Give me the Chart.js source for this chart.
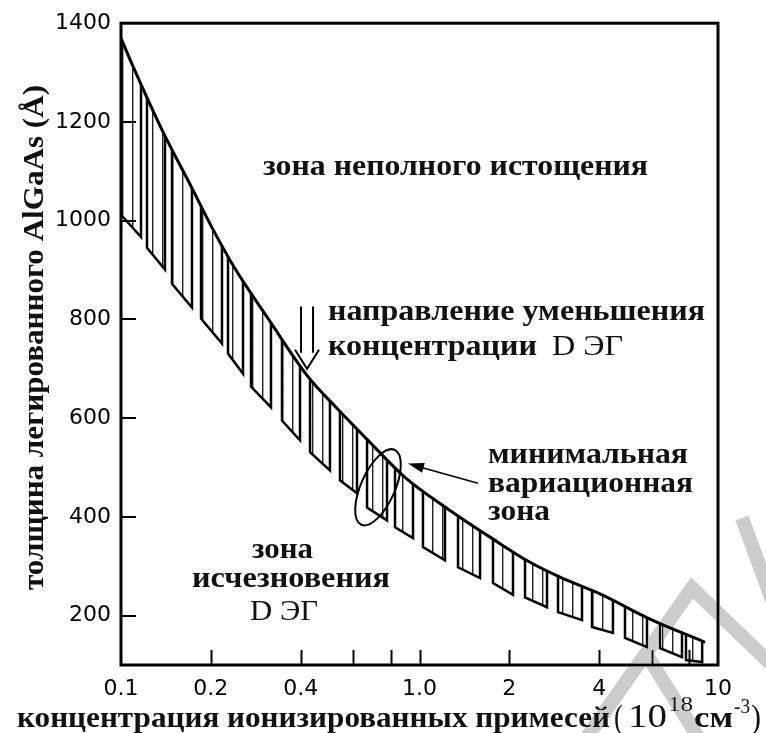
<!DOCTYPE html>
<html>
<head>
<meta charset="utf-8">
<script src="https://cdn.jsdelivr.net/npm/chart.js@4/dist/chart.umd.min.js"></script>
<style>
  html, body { margin: 0; padding: 0; background: #fff; }
  #c { display: block; }
</style>
</head>
<body>
<canvas id="c" width="766" height="733"></canvas>
<script>
// axis ticks
const xTicks = [0.1, 0.2, 0.4, 0.6, 0.8, 1, 2, 4, 6, 8, 10];
const xTickLabels = ['0.1', '0.2', '0.4', '', '', '1.0', '2', '4', '', '', '10'];
const yTicks = [200, 400, 600, 800, 1000, 1200, 1400];

// upper boundary curve (concentration 10^18 cm^-3, thickness A)
const curveX = [0.1, 0.1089, 0.1372, 0.1729, 0.2018, 0.2409, 0.3108, 0.4231, 0.5212, 0.6722, 0.8942, 1.265, 1.723, 2.346, 2.956, 4.025, 5.92, 9.05];
const curveY = [1370, 1317, 1184, 1066, 986, 903, 802, 684, 624, 555, 480, 413, 359, 308, 278, 244, 193, 146];

// hatched teeth under the curve: start / end concentration, bottom thickness at both ends
const toothX0 = [0.1, 0.1222, 0.1482, 0.1854, 0.2283, 0.2726, 0.3462, 0.4298, 0.5415, 0.6672, 0.8279, 1.027, 1.346, 1.763, 2.257, 2.911, 3.784, 4.88, 6.393, 7.811];
const toothX1 = [0.1167, 0.1404, 0.1729, 0.2179, 0.2563, 0.318, 0.3978, 0.5012, 0.6175, 0.7784, 0.9511, 1.217, 1.595, 2.057, 2.674, 3.503, 4.447, 5.783, 7.574, 8.85];
const toothY0 = [1012, 945, 872, 802, 731, 664, 595, 531, 474, 419, 379, 339, 298, 266, 237, 207, 177, 155, 134, 110];
const toothY1 = [967, 901, 824, 751, 690, 622, 555, 494, 448, 393, 357, 312, 276, 242, 217, 191, 165, 136, 116, 106];

const yMin = 100, yMax = 1400;

const BOLD = 'bold 30px "Liberation Serif"';
const REG = '30px "Liberation Serif"';
const BIG = '33px "Liberation Serif"';
const SUP = '20px "Liberation Serif"';

// text labels inside the plot (left x, baseline y, width in px)
const notes = [
    { t: 'зона неполного истощения', f: BOLD, x: 263, y: 175, w: 385 },
    { t: 'направление уменьшения', f: BOLD, x: 328, y: 320, w: 377 },
    { t: 'концентрации', f: BOLD, x: 328, y: 355, w: 209 },
    { t: 'D ЭГ', f: REG, x: 552, y: 355, w: 71 },
    { t: 'минимальная', f: BOLD, x: 488, y: 463, w: 200 },
    { t: 'вариационная', f: BOLD, x: 488, y: 492, w: 205 },
    { t: 'зона', f: BOLD, x: 488, y: 520, w: 62 },
    { t: 'зона', f: BOLD, x: 252, y: 558, w: 61 },
    { t: 'исчезновения', f: BOLD, x: 192, y: 587, w: 198 },
    { t: 'D ЭГ', f: REG, x: 250, y: 620, w: 68 }
];

// hatch pattern: thin vertical lines every 10px
const ctx = document.getElementById('c').getContext('2d');
const pc = document.createElement('canvas');
pc.width = 10; pc.height = 4;
const pctx = pc.getContext('2d');
pctx.fillStyle = '#222';
pctx.fillRect(2, 0, 1, 4);
pctx.fillStyle = 'rgba(0,0,0,0.35)';
pctx.fillRect(3, 0, 1, 4);
const hatch = ctx.createPattern(pc, 'repeat');

const outline = [];
toothX0.forEach((x0, i) => {
    outline.push({ x: x0, y: yMax }, { x: x0, y: toothY0[i] }, { x: toothX1[i], y: toothY1[i] }, { x: toothX1[i], y: yMax }, { x: toothX1[i], y: null });
});

const datasets = [{
    label: 'upper',
    data: curveX.map((x, i) => ({ x, y: curveY[i] })),
    borderColor: '#000',
    borderWidth: 3,
    backgroundColor: '#fff',
    fill: 'end',
    cubicInterpolationMode: 'monotone',
    pointRadius: 0,
    order: 0
}, {
    label: 'teeth',
    data: outline,
    borderColor: '#000',
    borderWidth: 2.5,
    fill: false,
    spanGaps: false,
    pointRadius: 0,
    order: 1
}];
toothX0.forEach((x0, i) => {
    datasets.push({
        label: 'hatch' + i,
        data: [{ x: x0, y: toothY0[i] }, { x: toothX1[i], y: toothY1[i] }],
        borderColor: 'rgba(0,0,0,0)',
        borderWidth: 0,
        backgroundColor: hatch,
        fill: 'end',
        pointRadius: 0,
        order: 2
    });
});

function fitText(c, t, font, x, y, w) {
    c.font = font;
    const nat = c.measureText(t).width;
    c.save();
    c.translate(x, y);
    c.scale(w / nat, 1);
    c.fillText(t, 0, 0);
    c.restore();
}

function arrowHead(c, x1, y1, x2, y2, len, half) {
    const a = Math.atan2(y2 - y1, x2 - x1);
    c.beginPath();
    c.moveTo(x2, y2);
    c.lineTo(x2 - len * Math.cos(a) + half * Math.sin(a), y2 - len * Math.sin(a) - half * Math.cos(a));
    c.lineTo(x2 - len * Math.cos(a) - half * Math.sin(a), y2 - len * Math.sin(a) + half * Math.cos(a));
    c.closePath();
    c.fill();
}

const decor = {
    id: 'decor',
    beforeDraw(chart) {
        const c = chart.ctx;
        c.save();
        c.fillStyle = '#fff';
        c.fillRect(0, 0, chart.width, chart.height);
        c.restore();
    },
    afterDraw(chart) {
        const c = chart.ctx;
        const a = chart.chartArea;
        const xs = chart.scales.x, ys = chart.scales.y;
        c.save();
        c.strokeStyle = '#000';
        c.fillStyle = '#111';

        // frame
        c.lineWidth = 3;
        c.strokeRect(a.left, a.top, a.right - a.left, a.bottom - a.top);

        // inner tick marks
        c.lineWidth = 2;
        c.beginPath();
        xTicks.slice(1, -1).forEach(v => {
            const px = Math.round(xs.getPixelForValue(v)) + 0.5;
            c.moveTo(px, a.bottom);
            c.lineTo(px, a.bottom - 15);
        });
        yTicks.slice(0, -1).forEach(v => {
            const py = Math.round(ys.getPixelForValue(v));
            c.moveTo(a.left, py);
            c.lineTo(a.left + 15, py);
        });
        c.stroke();

        // axis titles
        c.textAlign = 'left';
        c.textBaseline = 'alphabetic';
        fitText(c, 'концентрация ионизированных примесей', BOLD, 17, 727, 593);
        fitText(c, '(', BIG, 614, 728, 9);
        fitText(c, '10', BIG, 628, 727, 39);
        fitText(c, '18', SUP, 668, 711, 25);
        fitText(c, 'см', BOLD, 694, 727, 39);
        fitText(c, '-3', SUP, 734, 713, 16);
        fitText(c, ')', BIG, 751, 728, 10);

        c.save();
        c.translate(43, 590);
        c.rotate(-Math.PI / 2);
        fitText(c, 'толщина легированного AlGaAs (Å)', BOLD, 0, 0, 505);
        c.restore();

        // annotations
        notes.forEach(n => fitText(c, n.t, n.f, n.x, n.y, n.w));

        // double arrow: direction of decreasing concentration
        const ax = xs.getPixelForValue(0.42);
        const aTop = ys.getPixelForValue(826), aTip = ys.getPixelForValue(700);
        c.lineWidth = 2;
        c.beginPath();
        c.moveTo(ax - 6, aTop); c.lineTo(ax - 6, aTip - 16);
        c.moveTo(ax + 6, aTop); c.lineTo(ax + 6, aTip - 16);
        c.moveTo(ax - 12, aTip - 19); c.lineTo(ax, aTip); c.lineTo(ax + 12, aTip - 19);
        c.stroke();

        // ellipse marking the minimal variation zone
        const ex = xs.getPixelForValue(0.726), ey = ys.getPixelForValue(460);
        c.beginPath();
        c.ellipse(ex, ey, 41, 17, 1.99, 0, Math.PI * 2);
        c.stroke();

        // pointer from label to ellipse
        const p1x = xs.getPixelForValue(1.57), p1y = ys.getPixelForValue(468);
        const p2x = xs.getPixelForValue(0.915), p2y = ys.getPixelForValue(508);
        c.lineWidth = 1.5;
        c.beginPath();
        c.moveTo(p1x, p1y); c.lineTo(p2x + 10, p2y + 3);
        c.stroke();
        c.fillStyle = '#000';
        arrowHead(c, p1x, p1y, p2x, p2y, 16, 5);

        // faint watermark strokes
        c.globalCompositeOperation = 'darken';
        c.strokeStyle = '#cccccc';
        c.lineWidth = 14;
        c.lineCap = 'butt';
        c.beginPath();
        c.moveTo(585, 740); c.lineTo(692, 588); c.lineTo(775, 668);
        c.moveTo(645, 652); c.lineTo(700, 740);
        c.moveTo(742, 518); c.lineTo(772, 600);
        c.stroke();
        c.restore();
    }
};

new Chart(document.getElementById('c'), {
    type: 'line',
    data: { datasets },
    options: {
        responsive: false,
        animation: false,
        events: [],
        layout: { padding: { left: 0, right: 48, top: 22, bottom: 0 } },
        plugins: { legend: { display: false }, tooltip: { enabled: false } },
        scales: {
            x: {
                type: 'logarithmic',
                min: 0.1,
                max: 10,
                grid: { display: false, drawTicks: false },
                border: { display: false },
                afterBuildTicks: s => { s.ticks = xTicks.map(v => ({ value: v })); },
                afterFit: s => { s.height = 68; },
                ticks: {
                    autoSkip: false,
                    maxRotation: 0,
                    padding: 11,
                    color: '#000',
                    font: { family: '"DejaVu Sans"', size: 22 },
                    callback: v => {
                        const i = xTicks.indexOf(v);
                        return i >= 0 ? xTickLabels[i] : '';
                    }
                }
            },
            y: {
                type: 'linear',
                min: yMin,
                max: yMax,
                grid: { display: false, drawTicks: false },
                border: { display: false },
                afterBuildTicks: s => { s.ticks = yTicks.map(v => ({ value: v })); },
                afterFit: s => { s.width = 121; },
                ticks: {
                    padding: 10,
                    color: '#000',
                    font: { family: '"DejaVu Sans"', size: 22 },
                    callback: v => String(v)
                }
            }
        }
    },
    plugins: [decor]
});
</script>
</body>
</html>
